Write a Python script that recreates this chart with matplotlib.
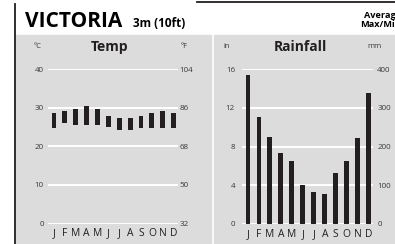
import numpy as np
import matplotlib.pyplot as plt
from matplotlib.patches import Rectangle
from matplotlib.lines import Line2D

plt.rcParams['font.family'] = ['Open Sans', 'DejaVu Sans']

months = ['J', 'F', 'M', 'A', 'M', 'J', 'J', 'A', 'S', 'O', 'N', 'D']
tempMax = [28.7, 29.2, 29.7, 30.3, 29.7, 27.9, 27.4, 27.4, 27.9, 28.7, 29.2, 28.7]
tempMin = [24.6, 25.9, 25.6, 25.6, 25.6, 25.1, 24.1, 24.1, 24.6, 24.6, 24.6, 24.6]
rainIn = [15.4, 11.0, 9.0, 7.3, 6.5, 4.0, 3.3, 3.1, 5.3, 6.5, 8.9, 13.5]

tempTicksC = [0, 10, 20, 30, 40]
tempTicksF = ['32', '50', '68', '86', '104']
rainTicksIn = [0, 4, 8, 12, 16]
rainTicksMm = ['0', '100', '200', '300', '400']

W, H = 395, 244
GRAY = '#dcdcdd'
DARK = '#231f20'
TXT = '#3a3a3a'


def px(x0, y0, x1, y1):
	# pixel box (top-left origin) -> figure fraction
	return [x0 / W, 1 - y1 / H, (x1 - x0) / W, (y1 - y0) / H]


def styleAxis(ax, ticks, rightLabels, ymax, lpad, rpad):
	ax.set_xlim(-0.55, 11.4)
	ax.set_ylim(0, ymax)
	ax.set_facecolor('none')
	for s in ax.spines.values():
		s.set_visible(False)
	for t in ticks:
		ax.axhline(t, color='white', lw=1.4, zorder=0)
	ax.set_yticks(ticks)
	ax.set_yticklabels([str(t) for t in ticks])
	ax.tick_params(axis='y', length=0, pad=lpad, labelsize=5.8, labelcolor=TXT)
	ax.set_xticks(range(12))
	ax.set_xticklabels(months)
	ax.tick_params(axis='x', length=0, pad=3.5, labelsize=7.4, labelcolor=DARK)
	ax2 = ax.twinx()
	ax2.set_ylim(0, ymax)
	ax2.set_yticks(ticks)
	ax2.set_yticklabels(rightLabels)
	ax2.tick_params(axis='y', length=0, pad=rpad, labelsize=5.8, labelcolor=TXT)
	for s in ax2.spines.values():
		s.set_visible(False)
	return ax2


fig = plt.figure(figsize=(W / 100, H / 100), dpi=100)

# panels and frame
fig.patches.append(Rectangle((15 / W, 0), (211 - 15) / W, 1 - 35 / H, transform=fig.transFigure, color=GRAY, zorder=-10))
fig.patches.append(Rectangle((214 / W, 0), (W - 214) / W, 1 - 35 / H, transform=fig.transFigure, color=GRAY, zorder=-10))
fig.lines.append(Line2D([14.5 / W, 14.5 / W], [0, 1 - 4 / H], transform=fig.transFigure, color=DARK, lw=1.3))
fig.lines.append(Line2D([197 / W, 1], [1 - 2 / H, 1 - 2 / H], transform=fig.transFigure, color=DARK, lw=1.3))

# titles
fig.text(25 / W, 1 - 27 / H, 'VICTORIA', fontsize=15, fontweight='bold', color='black', va='baseline')
fig.text(133 / W, 1 - 27 / H, '3m (10ft)', fontsize=8.5, fontweight='bold', color='black', va='baseline')
fig.text(401 / W, 1 - 20 / H, 'Average\nMax/Min', fontsize=6.6, fontweight='bold', color='black',
		 ha='right', va='center', linespacing=1.0)

fig.text(110 / W, 1 - 47 / H, 'Temp', fontsize=10, fontweight='bold', color=DARK, ha='center', va='center')
fig.text(38 / W, 1 - 47 / H, '°C', fontsize=5.5, color=TXT, ha='center', va='center')
fig.text(184 / W, 1 - 47 / H, '°F', fontsize=5.5, color=TXT, ha='center', va='center')

fig.text(300 / W, 1 - 47 / H, 'Rainfall', fontsize=10, fontweight='bold', color=DARK, ha='center', va='center')
fig.text(227 / W, 1 - 47 / H, 'in', fontsize=5.5, color=TXT, ha='center', va='center')
fig.text(374 / W, 1 - 47 / H, 'mm', fontsize=5.5, color=TXT, ha='center', va='center')

# temperature
axT = fig.add_axes(px(48, 69, 178, 223.5))
x = np.arange(12)
lo = np.array(tempMin)
hi = np.array(tempMax)
axT.bar(x, hi - lo, bottom=lo, width=0.45, color=DARK, zorder=2)
styleAxis(axT, tempTicksC, tempTicksF, 40, 3, 1)

# rainfall
axR = fig.add_axes(px(242, 69, 373, 224))
axR.bar(x, rainIn, width=0.45, color=DARK, zorder=2)
styleAxis(axR, rainTicksIn, rainTicksMm, 16, 5, 3)

fig.savefig('out.png', dpi=100)
